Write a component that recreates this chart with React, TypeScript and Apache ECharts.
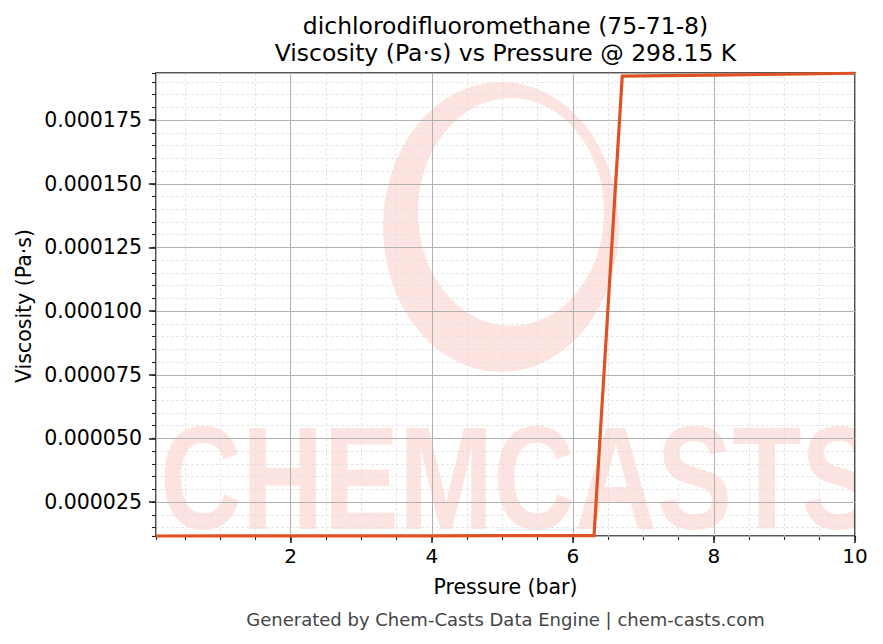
import React, { useEffect, useRef } from "react";
import * as echarts from "echarts";

const TITLE_LINES = ["dichlorodifluoromethane (75-71-8)", "Viscosity (Pa·s) vs Pressure @ 298.15 K"];
const X_NAME = "Pressure (bar)";
const Y_NAME = "Viscosity (Pa·s)";
const FOOTER = "Generated by Chem-Casts Data Engine | chem-casts.com";
const WATERMARK = "CHEMCASTS";

const pressure = [0.09, 1, 2, 3, 4, 5, 6, 6.3, 6.7, 7, 8, 9, 10];
const viscosity = [
  0.0000117, 0.00001171, 0.00001173, 0.00001175, 0.00001178, 0.00001181, 0.00001185, 0.00001187,
  0.0001923, 0.0001924, 0.0001927, 0.000193, 0.0001934,
];
const X_MIN = 0.09;
const X_MAX = 10;
const Y_MIN = 0.0000117;
const Y_MAX = 0.0001935;
const X_MAJOR = 2;
const X_MINOR = 0.5;
const Y_MAJOR = 0.000025;
const Y_MINOR = 0.000005;

const FONT = "DejaVu Sans";
const LINE_COLOR = "#de5223";
const PINK = "#fde4e0";

const RING_D =
  "M 383 227 A 118 145 0 1 0 619 227 A 118 145 0 1 0 383 227 Z " +
  "M 418 212 A 93 114 0 1 1 604 212 A 93 114 0 1 1 418 212 Z";

let registered = false;

export default function App() {
  const ref = useRef<HTMLDivElement>(null);
  useEffect(() => {
    document.body.style.margin = "0";
    if (!registered) {
      echarts.graphic.registerShape("logo", echarts.graphic.extendPath(RING_D, {}));
      registered = true;
    }
    const chart = echarts.init(ref.current!, null, { renderer: "svg" });
    const left = 156, right = 855, top = 73, bottom = 536;
    const cx = (left + right) / 2;
    const data = pressure.map((p, i) => [p, viscosity[i]]);
    const majorAxisCommon = {
      type: "value" as const,
      z: 1,
      axisLine: { show: false },
      axisTick: { show: true, length: 7, lineStyle: { color: "#222", width: 1.6 } },
      splitLine: { show: true, lineStyle: { color: "#b0b0b0", width: 1 } },
    };
    const minorAxisCommon = {
      type: "value" as const,
      z: 0,
      axisLine: { show: false },
      axisLabel: { show: false },
      axisTick: { show: true, length: 4, lineStyle: { color: "#222", width: 1.1 } },
      splitLine: { show: true, lineStyle: { color: "#e0e0e0", width: 0.8, type: [3, 2] } },
    };
    chart.setOption({
      animation: false,
      backgroundColor: "#fff",
      grid: {
        left, top, width: right - left, height: bottom - top,
        show: true, borderColor: "#222", borderWidth: 1.6, backgroundColor: "transparent",
        containLabel: false,
      },
      xAxis: [
        {
          ...majorAxisCommon,
          min: X_MIN, max: X_MAX, minInterval: X_MAJOR, maxInterval: X_MAJOR,
          position: "bottom",
          axisLabel: {
            show: true, showMinLabel: false, showMaxLabel: true, margin: 10,
            fontSize: 20, fontFamily: FONT, color: "#000",
          },
        },
        {
          ...minorAxisCommon,
          min: X_MIN, max: X_MAX, minInterval: X_MINOR, maxInterval: X_MINOR,
          position: "bottom",
        },
      ],
      yAxis: [
        {
          ...majorAxisCommon,
          min: Y_MIN, max: Y_MAX, minInterval: Y_MAJOR, maxInterval: Y_MAJOR,
          position: "left",
          axisLabel: {
            show: true, showMinLabel: false, showMaxLabel: false, margin: 14,
            fontSize: 20.5, fontFamily: FONT, color: "#000",
            formatter: (v: number) => v.toFixed(6),
          },
        },
        {
          ...minorAxisCommon,
          min: Y_MIN, max: Y_MAX, minInterval: Y_MINOR, maxInterval: Y_MINOR,
          position: "left",
        },
      ],
      series: [
        {
          type: "line",
          data,
          xAxisIndex: 0,
          yAxisIndex: 0,
          showSymbol: false,
          symbol: "none",
          z: 5,
          clip: false,
          lineStyle: { color: LINE_COLOR, width: 3.2, join: "miter" },
        },
      ],
      graphic: [
        { type: "logo", x: 0, y: 0, z: -10, silent: true, style: { fill: PINK } },
        {
          type: "text", x: 160, y: 478, z: -10, scaleX: 0.77, silent: true,
          style: {
            text: WATERMARK, fontSize: 147, fontWeight: "bold", fontFamily: "Liberation Sans",
            fill: PINK, textAlign: "left", textVerticalAlign: "middle",
          },
        },
        { type: "rect", z: -9, silent: true, shape: { x: right + 1, y: 0, width: 60, height: 644 }, style: { fill: "#fff" } },
        {
          type: "text", x: cx, y: 26, silent: true,
          style: { text: TITLE_LINES[0], fontSize: 23.5, fontFamily: FONT, fill: "#000", textAlign: "center", textVerticalAlign: "middle" },
        },
        {
          type: "text", x: cx, y: 53, silent: true,
          style: { text: TITLE_LINES[1], fontSize: 23.5, fontFamily: FONT, fill: "#000", textAlign: "center", textVerticalAlign: "middle" },
        },
        {
          type: "text", x: cx, y: 587, silent: true,
          style: { text: X_NAME, fontSize: 20.5, fontFamily: FONT, fill: "#000", textAlign: "center", textVerticalAlign: "middle" },
        },
        {
          type: "text", x: 24, y: 306, rotation: Math.PI / 2, silent: true,
          style: { text: Y_NAME, fontSize: 20.5, fontFamily: FONT, fill: "#000", textAlign: "center", textVerticalAlign: "middle" },
        },
        {
          type: "text", x: cx, y: 619, silent: true,
          style: { text: FOOTER, fontSize: 18, fontFamily: FONT, fill: "#444", textAlign: "center", textVerticalAlign: "middle" },
        },
      ],
    });
    return () => chart.dispose();
  }, []);
  return (
    <div
      ref={ref}
      style={{ position: "fixed", left: 0, top: 0, width: 883, height: 644 }}
    />
  );
}
